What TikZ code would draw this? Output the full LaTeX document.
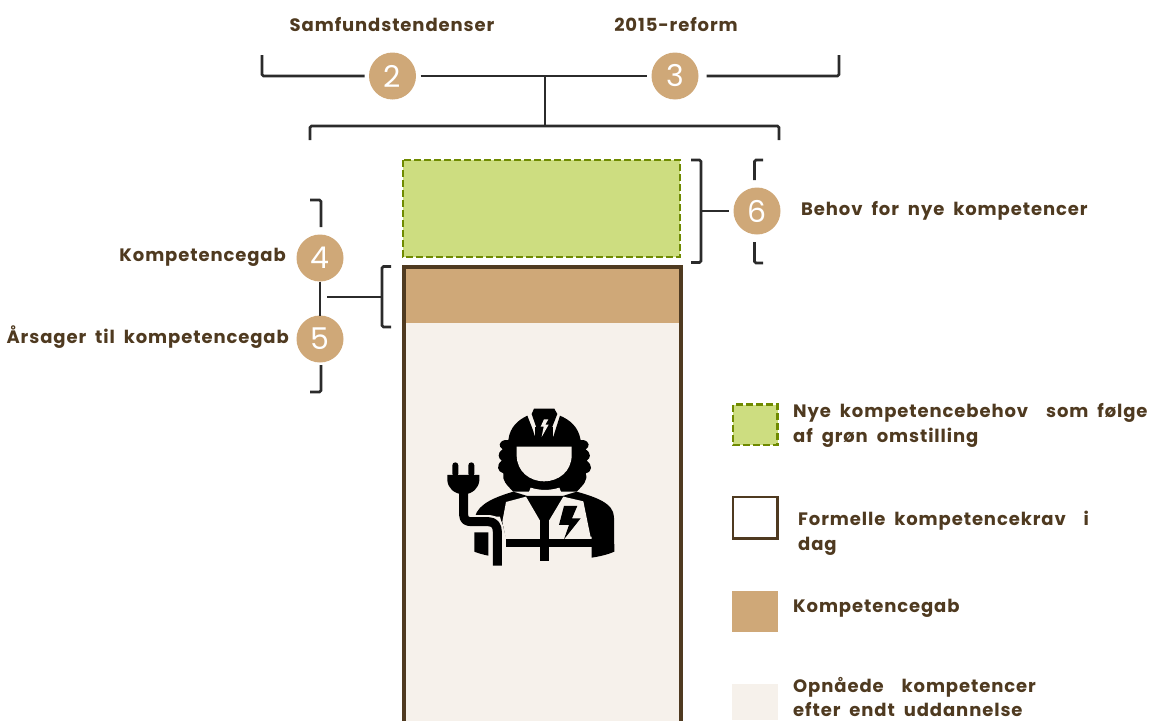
\documentclass[tikz,border=0pt]{standalone}
\usepackage{fontspec}
\setmainfont{Poppins}
\newfontfamily\lblfont[LetterSpace=5,WordSpace=1.9]{Poppins}
\definecolor{tanfill}{HTML}{CFA878}
\definecolor{palefill}{HTML}{F6F1EB}
\definecolor{greenfill}{HTML}{CDDD80}
\definecolor{greenline}{HTML}{6F8A00}
\definecolor{brownline}{HTML}{4F3A20}
\definecolor{bracketline}{HTML}{2B2B2B}
\tikzset{
    numdot/.style={circle,fill=tanfill,text=white,inner sep=0pt,minimum size=47pt,outer sep=4.5pt,font=\fontsize{30}{30}\selectfont},
    bracket/.style={draw=bracketline,line width=2.7pt,rounded corners=1.5pt},
    lbl/.style={text=brownline,font=\fontsize{18}{25}\selectfont\lblfont\bfseries,inner sep=0pt,align=left},
    greenbox/.style={fill=greenfill,draw=greenline,line width=2.8pt,dash pattern=on 7pt off 3pt},
    brownbox/.style={draw=brownline,line width=4pt}
}
\begin{document}
\begin{tikzpicture}[x=1pt,y=-1pt]
    \useasboundingbox (0,0) rectangle (1153,720);
    \clip (0,0) rectangle (1153,720);
    % Numbered dots
    \node[numdot] (dottwo) at (392.5,76) {2};
    \node[numdot] (dotthree) at (675,76) {3};
    \node[numdot] (dotfour) at (320,258) {4};
    \node[numdot] (dotfive) at (320,339) {5};
    \node[numdot] (dotsix) at (757,211) {6};
    % Free ends of the brackets
    \coordinate (topjoin) at (545,76);
    \coordinate (lowjoin) at (545,126);
    \coordinate (needjoin) at (701,211);
    \coordinate (gapjoin) at (382,297);
    % Top brackets
    \draw[bracket] (262,55) -- (262,76) -- (dottwo.west);
    \draw[bracket] (dottwo.east) -- (dotthree.west);
    \draw[bracket,shorten <=3.5pt] (dotthree.east) -- (839,76) -- (839,55);
    \draw[bracket] (topjoin) -- (lowjoin);
    \draw[bracket] (310,140) -- (310,126) -- (779,126) -- (779,140);
    % Bars: new needs and today's requirements
    \fill[palefill] (403,267) rectangle (681,730);
    \fill[tanfill] (403,267) rectangle (681,323);
    \draw[brownbox] (404,267) rectangle (680.5,730);
    \draw[greenbox] (403,160) rectangle (680,257);
    % Brackets beside the bars
    \draw[bracket] (691,160) -- (701,160) -- (701,262.5) -- (691,262.5);
    \draw[bracket] (needjoin) -- (dotsix.west);
    \draw[bracket] (763,160) -- (754.5,160) -- (754.5,180);
    \draw[bracket] (754.5,242) -- (754.5,263) -- (763,263);
    \draw[bracket] (310,200) -- (321,200) -- (321,227);
    \draw[bracket,shorten <=-4.5pt,shorten >=-4.5pt] (dotfour.south) -- (dotfive.north);
    \draw[bracket] (321,365) -- (321,392) -- (310,392);
    \draw[bracket] (327,297) -- (gapjoin);
    \draw[bracket] (391,266.5) -- (382,266.5) -- (382,327) -- (391,327);
    % Labels
    \node[lbl,anchor=center] (trendlbl) at (392,25) {Samfundstendenser};
    \node[lbl,anchor=center] (reformlbl) at (676,25) {2015-reform};
    \node[lbl,anchor=east] (gaplbl) at (286,257) {Kompetencegab};
    \node[lbl,anchor=east] (causelbl) at (289,337) {Årsager til kompetencegab};
    \node[lbl,anchor=west] (needlbl) at (801,211) {Behov for nye kompetencer};
    % Legend
    \draw[greenbox] (733,404.5) rectangle (777.5,445);
    \draw[brownbox,line width=2.8pt] (733,497) rectangle (777.5,538.5);
    \fill[tanfill] (732,591) rectangle (778,632);
    \fill[palefill] (732,684) rectangle (778,720);
    \node[lbl,anchor=west] (legendone) at (793,425) {Nye kompetencebehov\ \ som følge\\af grøn omstilling};
    \node[lbl,anchor=west] (legendtwo) at (798,533.5) {Formelle kompetencekrav\ \ i\\dag};
    \node[lbl,anchor=west] (legendthree) at (793,608) {Kompetencegab};
    \node[lbl,anchor=west] (legendfour) at (793,696.5) {Opnåede\ \ kompetencer\\[-1pt]efter\ endt\ uddannelse};
    % Worker icon
    \begin{scope}[shift={(420,390)},x=0.3333pt,y=-0.3333pt]
        % Hair
        \fill[black] (255,150) .. controls (235,155) and (235,170) .. (248,178)
            .. controls (230,190) and (235,205) .. (245,212)
            .. controls (228,225) and (232,245) .. (250,250)
            .. controls (245,270) and (260,285) .. (280,305)
            -- (470,305) .. controls (490,285) and (505,270) .. (497,250)
            .. controls (518,245) and (518,225) .. (500,212)
            .. controls (512,205) and (515,190) .. (497,178)
            .. controls (510,170) and (510,155) .. (490,150) -- cycle;
        % Helmet
        \fill[black] (265,150) .. controls (270,110) and (295,90) .. (322,77)
            -- (338,118) -- (345,140) -- (400,140) -- (420,77)
            .. controls (450,90) and (475,110) .. (482,150) -- cycle;
        \fill[black] (335,72) -- (342,56) -- (403,56) -- (412,72) -- (395,115) -- (350,115) -- cycle;
        \fill[black] (345,110) rectangle (400,150);
        \fill[palefill] (372,88) -- (362,110) -- (371,110) -- (365,141) -- (386,104) -- (376,104) -- (385,88) -- cycle;
        % Face and collar
        \fill[palefill] (290,170) -- (455,170) -- (455,195)
            .. controls (455,245) and (415,274) .. (372,274)
            .. controls (330,274) and (290,245) .. (290,195) -- cycle;
        \fill[palefill] (332,293) .. controls (360,302) and (390,302) .. (418,293) -- (428,318) -- (322,318) -- cycle;
        % Jacket
        \fill[black] (165,380) .. controls (175,340) and (230,320) .. (280,305)
            -- (322,318) -- (428,318) -- (470,305)
            .. controls (530,322) and (580,340) .. (582,380)
            -- (583,485) .. controls (560,495) and (535,500) .. (515,503)
            -- (515,440) -- (258,440) -- (240,380) -- cycle;
        \fill[black] (163,427) -- (205,427) -- (205,497) .. controls (190,494) and (175,490) .. (163,485) -- cycle;
        % Vest panels
        \fill[palefill] (258,336) -- (318,320) -- (360,392) -- (360,447) -- (258,447) -- (247,395) -- cycle;
        \fill[palefill] (387,447) -- (387,392) -- (430,320) -- (490,334) -- (513,447) -- cycle;
        \fill[black] (258,447) rectangle (515,470);
        \fill[black] (360,390) rectangle (387,514);
        \fill[black] (360,392) -- (387,392) -- (373,410) -- cycle;
        \fill[black] (432,348) -- (472,348) -- (456,385) -- (482,385) -- (432,448) -- (447,405) -- (417,405) -- cycle;
        % Plug and cable
        \draw[palefill,line width=13pt,line join=round] (131,395) -- (131,385) .. controls (131,400) and (145,395) .. (155,395) -- (210,395) .. controls (225,395) and (232,410) .. (232,425) -- (232,527);
        \draw[black,line width=9pt,line join=round] (131,300) -- (131,375) .. controls (131,392) and (143,395) .. (155,395) -- (205,395) .. controls (224,395) and (232,408) .. (232,425) -- (232,527);
        \fill[black] (82,255) -- (178,255) -- (178,272) .. controls (175,295) and (160,310) .. (131,314) .. controls (100,310) and (85,295) .. (82,272) -- cycle;
        \fill[black,rounded corners=3pt] (97,217) rectangle (115,260);
        \fill[black,rounded corners=3pt] (145,217) rectangle (163,260);
    \end{scope}
\end{tikzpicture}
\end{document}
